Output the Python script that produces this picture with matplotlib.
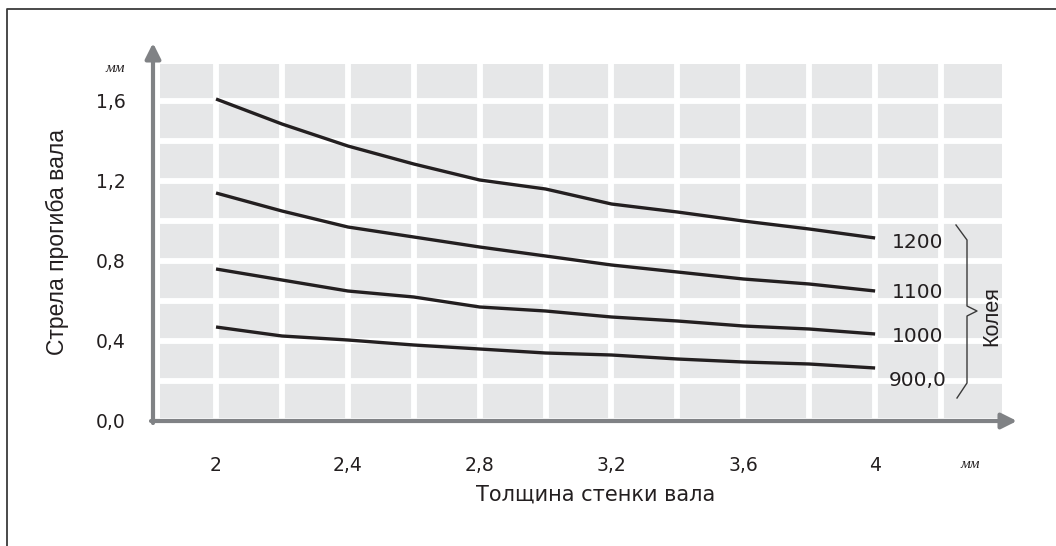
import matplotlib
matplotlib.use('Agg')
import matplotlib.pyplot as plt
import numpy as np

# данные
x = [2.0, 2.2, 2.4, 2.6, 2.8, 3.0, 3.2, 3.4, 3.6, 3.8, 4.0]
y_1200 = [1.61, 1.485, 1.375, 1.285, 1.205, 1.16, 1.085, 1.045, 1.0, 0.96, 0.915]
y_1100 = [1.14, 1.05, 0.97, 0.92, 0.87, 0.825, 0.78, 0.745, 0.71, 0.685, 0.65]
y_1000 = [0.76, 0.705, 0.65, 0.62, 0.57, 0.55, 0.52, 0.50, 0.475, 0.46, 0.435]
y_900 = [0.47, 0.425, 0.405, 0.38, 0.36, 0.34, 0.33, 0.31, 0.295, 0.285, 0.265]
series = [y_1200, y_1100, y_1000, y_900]
labels = ['1200', '1100', '1000', '900,0']
label_y = [0.89, 0.645, 0.42, 0.205]

x_ticks = [2, 2.4, 2.8, 3.2, 3.6, 4]
x_ticklabels = ['2', '2,4', '2,8', '3,2', '3,6', '4']
y_ticks = [0.0, 0.4, 0.8, 1.2, 1.6]
y_ticklabels = ['0,0', '0,4', '0,8', '1,2', '1,6']

W, H = 1056, 546
plt.rcParams['font.family'] = ['DejaVu Sans']
fig = plt.figure(figsize=(W / 100, H / 100), dpi=100)

# основная область графика (серые клетки)
ax = fig.add_axes([160 / W, (H - 421) / H, (1002 - 160) / W, (421 - 64) / H])
ax.set_facecolor('#e6e7e8')
ax.set_xlim(1.83, 4.385)
ax.set_ylim(0, 1.785)
ax.set_xticks(np.arange(2.2, 4.4, 0.4), minor=True)
ax.set_yticks(np.arange(0.2, 1.8, 0.4), minor=True)
ax.set_xticks(x_ticks)
ax.set_xticklabels(x_ticklabels)
ax.set_yticks(y_ticks)
ax.set_yticklabels(y_ticklabels)
ax.grid(which='both', color='white', lw=4.2)
ax.set_axisbelow(True)
ax.tick_params(which='both', length=0)
ax.tick_params(axis='x', pad=25, labelsize=13.5, colors='#231f20')
ax.tick_params(axis='y', pad=25, labelsize=13.5, colors='#231f20')
for s in ax.spines.values():
    s.set_visible(False)

for ys in series:
    ax.plot(x, ys, color='#231f20', lw=2.4, solid_capstyle='butt', solid_joinstyle='round')
for lab, ly in zip(labels, label_y):
    ax.text(4.13, ly, lab, ha='center', va='center', fontsize=14.5, color='#231f20')

# оверлей в пикселях: рамка, стрелки осей, скобка, подписи
ov = fig.add_axes([0, 0, 1, 1])
ov.set_xlim(0, W)
ov.set_ylim(H, 0)
ov.axis('off')
ov.patch.set_alpha(0)

ov.plot([6.5, 6.5, W], [H, 8.5, 8.5], color='#3a3a3a', lw=1.3)

arrow = dict(arrowstyle='-|>,head_length=0.4,head_width=0.2', lw=3, color='#808285',
             mutation_scale=23, shrinkA=0, shrinkB=0)
ov.annotate('', xy=(153, 43), xytext=(153, 423), arrowprops=arrow)
ov.annotate('', xy=(1017, 421), xytext=(151, 421), arrowprops=arrow)

bx = [956, 967, 967, 977, 967, 967, 957]
by = [225, 240, 306, 311, 316, 383, 398]
ov.plot(bx, by, color='#3a3a3a', lw=1.0)
ov.text(992, 316, 'Колея', rotation=90, ha='center', va='center', fontsize=15.5,
        family='Liberation Sans', color='#231f20')

ov.text(115, 68, 'мм', fontsize=11, style='italic', family='Liberation Serif', ha='center', va='center', color='#231f20')
ov.text(970, 465, 'мм', fontsize=11, style='italic', family='Liberation Serif', ha='center', va='center', color='#231f20')

ov.text(596, 495, 'Толщина стенки вала', ha='center', va='center', fontsize=15, color='#231f20')
ov.text(57, 242, 'Стрела прогиба вала', rotation=90, ha='center', va='center', fontsize=16.5,
        family='Liberation Sans', color='#231f20')

fig.savefig('out.png', dpi=100)
